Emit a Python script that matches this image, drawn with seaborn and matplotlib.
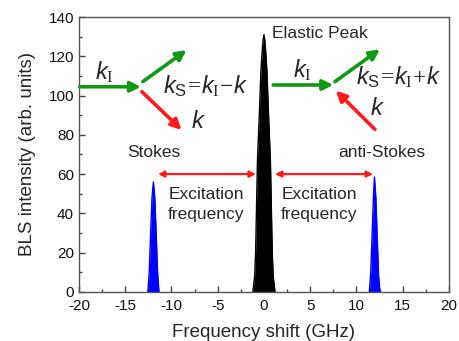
import numpy as np
import pandas as pd
import matplotlib
matplotlib.use('Agg')
import matplotlib.pyplot as plt
import seaborn as sns
from matplotlib.ticker import MultipleLocator

# spectrum: three peaks
elastic_freq = [-1.2, -1.0, -0.9, -0.7, -0.5, -0.32, -0.2, -0.1, 0.0,
                0.1, 0.2, 0.32, 0.5, 0.7, 0.9, 1.0, 1.2]
elastic_int = [0, 8, 20, 67, 90, 113, 122, 128, 131,
               128, 122, 113, 90, 67, 20, 8, 0]

stokes_freq = [-12.55, -12.4, -12.25, -12.1, -11.95, -11.8, -11.65, -11.5, -11.35]
stokes_int = [0, 10, 30, 48, 56, 48, 30, 10, 0]

anti_freq = [11.4, 11.55, 11.7, 11.85, 11.95, 12.1, 12.25, 12.4, 12.55]
anti_int = [0, 10, 30, 50, 58.5, 48, 28, 8, 0]

sns.set_theme(style='ticks')
plt.rcParams['font.family'] = ['Liberation Sans', 'DejaVu Sans']
plt.rcParams['axes.unicode_minus'] = False
plt.rcParams['mathtext.fontset'] = 'custom'
plt.rcParams['mathtext.it'] = 'Liberation Sans:italic'
plt.rcParams['mathtext.rm'] = 'Liberation Serif'
plt.rcParams['mathtext.sf'] = 'Liberation Sans'

fig = plt.figure(figsize=(4.59, 3.41), dpi=100)
ax = fig.add_axes([0.172, 0.144, 0.806, 0.806])

peaks = [(elastic_freq, elastic_int, 'black'),
         (stokes_freq, stokes_int, 'blue'),
         (anti_freq, anti_int, 'blue')]
for fx, fy, col in peaks:
    df = pd.DataFrame({'f': fx, 'i': fy})
    sns.lineplot(data=df, x='f', y='i', color=col, lw=1, ax=ax, sort=False)
    ax.fill_between(df['f'], df['i'], color=col, lw=0)

ax.set_xlim(-20, 20)
ax.set_ylim(0, 140)
ax.xaxis.set_major_locator(MultipleLocator(5))
ax.xaxis.set_minor_locator(MultipleLocator(2.5))
ax.yaxis.set_major_locator(MultipleLocator(20))
ax.yaxis.set_minor_locator(MultipleLocator(10))
ax.tick_params(which='both', direction='in', top=False, right=False,
               colors='#444444', labelcolor='#111111', labelsize=11)
ax.tick_params(which='major', length=4, width=1)
ax.tick_params(axis='x', pad=5)
ax.tick_params(which='minor', length=2.5, width=1)
for s in ax.spines.values():
    s.set_color('#555555')
    s.set_linewidth(1)
ax.set_xlabel('Frequency shift (GHz)', fontsize=13.5, labelpad=8)
ax.set_ylabel('BLS intensity (arb. units)', fontsize=13.5, labelpad=9)

green = '#119911'
red = '#ff1a1a'

def arrow(x0, y0, x1, y1, col, lw=2.6, ms=15, style='-|>'):
    ax.annotate('', xy=(x1, y1), xytext=(x0, y0),
                arrowprops=dict(arrowstyle=style, color=col, lw=lw,
                                mutation_scale=ms, shrinkA=0, shrinkB=0))

# Stokes diagram
arrow(-19.9, 104.5, -13.3, 104.5, green)
arrow(-13.1, 107.1, -8.36, 123.2, green)
arrow(-13.2, 102.0, -8.9, 82.5, red)
# anti-Stokes diagram
arrow(1.0, 105.4, 7.5, 105.4, green)
arrow(7.68, 107.1, 12.54, 123.6, green)
arrow(12.0, 82.8, 7.78, 102.5, red)
# excitation frequency
arrow(-11.45, 60, -0.86, 60, red, lw=1.6, ms=9, style='<|-|>')
arrow(1.19, 60, 11.8, 60, red, lw=1.6, ms=9, style='<|-|>')

big = 17
ax.text(-17.2, 112, r'$k_\mathrm{I}$', fontsize=big, ha='center', va='center')
ax.text(-10.9, 105, r'$k_\mathsf{S}\!=\!k_\mathrm{I}\!-\!k$', fontsize=big, ha='left', va='center')
ax.text(-7.1, 86.5, r'$k$', fontsize=big, ha='center', va='center')
ax.text(4.16, 113, r'$k_\mathrm{I}$', fontsize=big, ha='center', va='center')
ax.text(10.0, 109.5, r'$k_\mathsf{S}\!=\!k_\mathrm{I}\!+\!k$', fontsize=big, ha='left', va='center')
ax.text(12.27, 93, r'$k$', fontsize=big, ha='center', va='center')

ax.text(0.86, 131.5, 'Elastic Peak', fontsize=12.5, ha='left', va='center')
ax.text(-11.95, 70.8, 'Stokes', fontsize=12.5, ha='center', va='center')
ax.text(12.76, 70.8, 'anti-Stokes', fontsize=12.5, ha='center', va='center')
ax.text(-6.27, 44.5, 'Excitation\nfrequency', fontsize=12.5, ha='center', va='center',
        linespacing=1.4)
ax.text(5.95, 44.5, 'Excitation\nfrequency', fontsize=12.5, ha='center', va='center',
        linespacing=1.4)

fig.savefig('out.png', dpi=100)
